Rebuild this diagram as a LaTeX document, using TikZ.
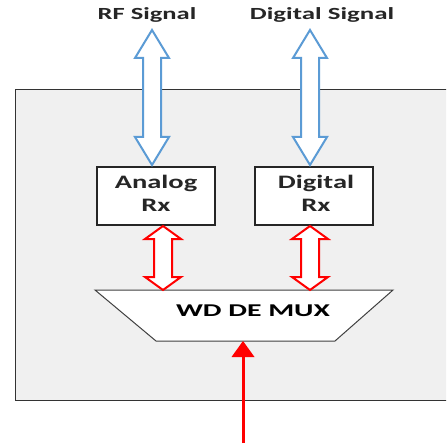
\documentclass[tikz,border=0pt]{standalone}
\usepackage{fontspec}
\setmainfont{Carlito}
\newcommand{\widetxt}[2]{\scalebox{#1}[1]{#2}}
\begin{document}
\begin{tikzpicture}[x=1pt,y=-1pt,
  lbl/.style={font=\bfseries\fontsize{17}{19}\selectfont, text=black!85, inner sep=0pt},
  rxbox/.style={draw=black!85, line width=1.3pt, fill=white, minimum width=118pt, minimum height=58pt, align=center, font=\bfseries\fontsize{19}{23}\selectfont, text=black!85, inner sep=0pt},
  bluearr/.style={draw={rgb,255:red,91;green,155;blue,213}, line width=2pt, fill=white, line join=miter},
  redarr/.style={draw=red, line width=2pt, fill=white, line join=miter},
  muxshape/.style={draw=black!75, line width=1pt, fill=white},
  feed/.style={draw=red, line width=3pt}
]
\newcommand{\mydbl}[7]{% x, ytop, ybot, headlen, headhalf, shafthalf, style
  \path[#7] (#1,#2) -- (#1+#5,#2+#4) -- (#1+#6,#2+#4) -- (#1+#6,#3-#4) -- (#1+#5,#3-#4)
    -- (#1,#3) -- (#1-#5,#3-#4) -- (#1-#6,#3-#4) -- (#1-#6,#2+#4) -- (#1-#5,#2+#4) -- cycle;}
\useasboundingbox (0,0) rectangle (446,446);
\fill[white] (0,0) rectangle (446,446);
% outer box
\begin{scope}
\clip (0,0) rectangle (446,446);
\draw[fill=black!6, draw=black!80, line width=1pt] (15,90) rectangle (460,400);
\end{scope}
% labels
\node[lbl] (rf) at (147,15) {\widetxt{1.56}{RF Signal}};
\node[lbl] (dig) at (322,15) {\widetxt{1.58}{Digital Signal}};
% Rx boxes
\node[rxbox] (arx) at (156,196) {};
\node[rxbox, draw=none, fill=none] at (156,193) {\widetxt{1.5}{Analog}\\\widetxt{1.5}{Rx}};
\node[rxbox] (drx) at (314,196) {};
\node[rxbox, draw=none, fill=none] at (316,193) {\widetxt{1.5}{Digital}\\\widetxt{1.5}{Rx}};
% mux
\path[muxshape] (95,290) -- (393,290) -- (335,341) -- (156,341) -- cycle;
\node[lbl, font=\bfseries\fontsize{18}{20}\selectfont, text=black] (mux) at (253,311) {\widetxt{1.65}{WD DE MUX}};
\coordinate (muxbot) at (243,341);
\coordinate (inp) at (243,443);
% blue double arrows
\mydbl{152}{30}{165}{28}{17}{9}{bluearr}
\mydbl{310}{30}{165}{28}{17}{9}{bluearr}
% red double arrows
\mydbl{163}{226}{290}{13}{18}{9}{redarr}
\mydbl{310}{226}{290}{13}{18}{9}{redarr}
% input arrow
\draw[feed] (inp) -- (243,355);
\fill[red] (muxbot) -- (254.5,357) -- (231.5,357) -- cycle;
\end{tikzpicture}
\end{document}
